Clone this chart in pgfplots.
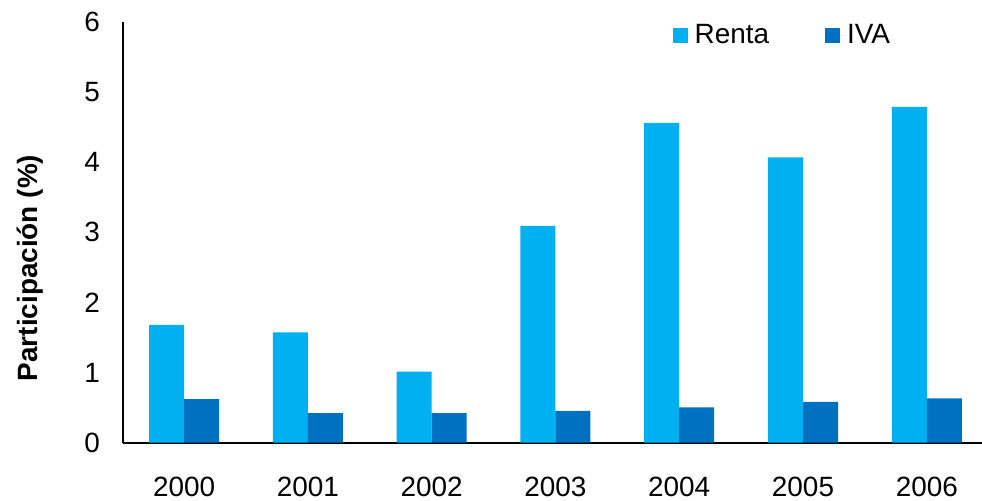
\documentclass[border=0pt]{standalone}
\usepackage{pgfplots}
\pgfplotsset{compat=1.18}
\usepackage{fontspec}
\setmainfont{Liberation Sans}
\definecolor{renta}{RGB}{0,176,240}
\definecolor{iva}{RGB}{0,112,192}
\begin{document}
\begin{tikzpicture}
\useasboundingbox (-123.5bp,-58.5bp) rectangle (858.5bp,442.5bp);
\begin{axis}[
  at={(0,0)}, anchor=south west,
  scale only axis,
  width=858.5bp, height=420.5bp,
  ybar=0pt, bar width=0.283,
  xmin=-0.489, xmax=6.446,
  ymin=0, ymax=6,
  ytick={0,1,2,3,4,5,6},
  xtick={0,1,2,3,4,5,6},
  xticklabels={2000,2001,2002,2003,2004,2005,2006},
  axis x line*=bottom, axis y line*=left,
  axis line style={line width=2bp, black},
  major tick length=0pt,
  /pgf/number format/assume math mode=true,
  tick label style={font=\fontsize{28}{32}\selectfont, inner sep=0pt},
  yticklabel style={anchor=east, xshift=-23.5bp},
  xticklabel style={anchor=base, yshift=-53.5bp},
  ylabel={\textbf{Participación (\%)}},
  ylabel style={font=\fontsize{28}{32}\selectfont, at={(axis description cs:-0.1089,0.415)}, anchor=center, rotate=0},
  legend style={draw=none, fill=none, at={(0.636,0.969)}, anchor=west,
    font=\fontsize{28}{32}\selectfont, legend columns=2,
    /tikz/every even column/.append style={column sep=53bp},
    nodes={inner sep=3bp}},
  legend image code/.code={\path (0bp,0bp) -- (19bp,0bp); \fill[#1] (0bp,-7.5bp) rectangle (15bp,7.5bp);},
  clip=false,
]
\addplot[fill=renta, draw=none] coordinates {(0,1.68) (1,1.57) (2,1.01) (3,3.09) (4,4.56) (5,4.07) (6,4.79)};
\addlegendentry{Renta}
\addplot[fill=iva, draw=none] coordinates {(0,0.62) (1,0.42) (2,0.42) (3,0.45) (4,0.50) (5,0.58) (6,0.63)};
\addlegendentry{IVA}
\end{axis}
\end{tikzpicture}
\end{document}
